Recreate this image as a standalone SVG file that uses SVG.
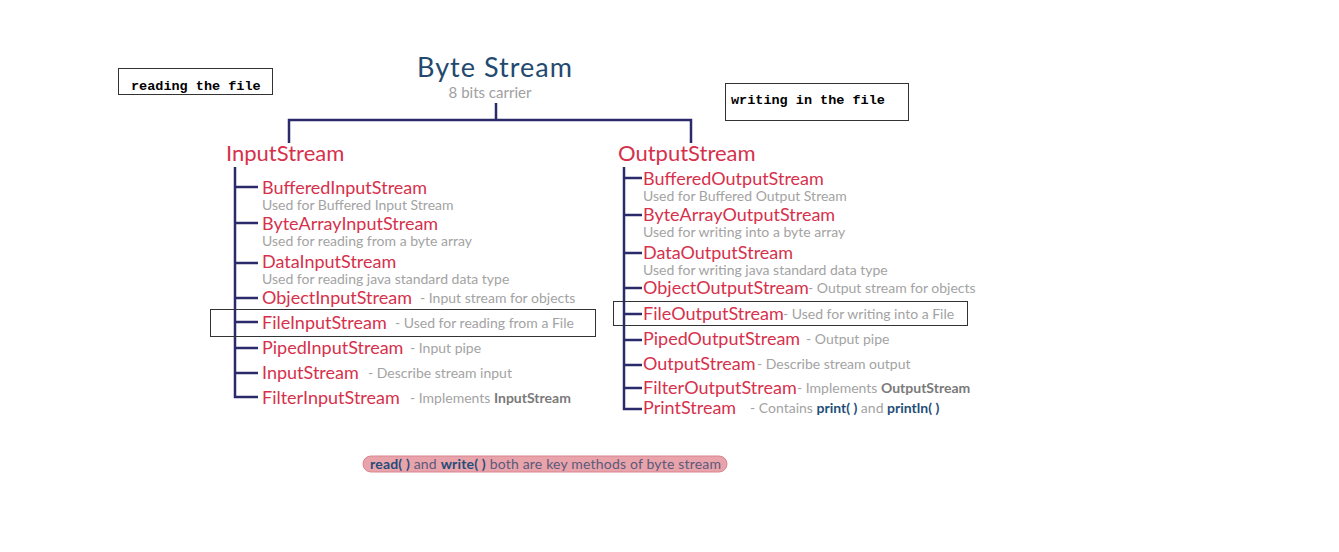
<svg xmlns="http://www.w3.org/2000/svg" width="1339" height="552" viewBox="0 0 1339 552">
<style>
.t{font-family:Lato,"Open Sans","Liberation Sans",sans-serif}
.red{fill:#d6314c;font-size:18px}
.hd{fill:#d6314c;font-size:22px}
.sub{fill:#a3a3a3;font-size:14px}
.desc{fill:#a3a3a3;font-size:14px}
.bg{font-weight:bold;fill:#7a7a7a}
.nb{font-weight:bold;fill:#1f4e79}
.mono{font-family:"Liberation Mono","DejaVu Sans Mono",monospace;font-weight:bold;font-size:13.5px;fill:#000}
.ln{stroke:#2b2a6b;stroke-width:2.5;fill:none}
.box{fill:none;stroke:#333;stroke-width:1}
</style>
<rect width="1339" height="552" fill="#fff"/>
<g id="connectors">
<path class="ln" d="M496,103V120M289,143V120H691V143"/>
<path class="ln" d="M235,167V397H258M235,187H258M235,223H258M235,263H258M235,298H258M235,322H258M235,348H258M235,373H258"/>
<path class="ln" d="M624,167V409H642M624,178H642M624,215H642M624,253H642M624,288H642M624,314H642M624,340H642M624,365H642M624,388H642"/>
</g>
<g id="note-reading">
<rect class="box" x="118.5" y="68.5" width="154" height="26"/>
<text class="mono" x="131" y="90">reading the file</text>
</g>
<g id="note-writing">
<rect class="box" x="725.5" y="83.5" width="183" height="37"/>
<text class="mono" x="731" y="104">writing in the file</text>
</g>
<g id="title">
<text class="t" x="417" y="77" font-size="27" fill="#23496f" textLength="155" lengthAdjust="spacing">Byte Stream</text>
<text class="t" x="490" y="98" text-anchor="middle" font-size="15" fill="#a0a0a0">8 bits carrier</text>
</g>
<g id="input">
<text class="t hd" x="226" y="161">InputStream</text>
<text class="t red" x="262" y="194">BufferedInputStream</text>
<text class="t sub" x="262" y="210">Used for Buffered Input Stream</text>
<text class="t red" x="262" y="230">ByteArrayInputStream</text>
<text class="t sub" x="262" y="246">Used for reading from a byte array</text>
<text class="t red" x="262" y="268">DataInputStream</text>
<text class="t sub" x="262" y="284">Used for reading java standard data type</text>
<text class="t red" x="262" y="304">ObjectInputStream</text>
<text class="t desc" x="420" y="303">- Input stream for objects</text>
<g id="file-input">
<rect class="box" x="210.5" y="309.5" width="385" height="27"/>
<text class="t red" x="262" y="329">FileInputStream</text>
<text class="t desc" x="395" y="328">- Used for reading from a File</text>
</g>
<text class="t red" x="262" y="354">PipedInputStream</text>
<text class="t desc" x="410" y="353">- Input pipe</text>
<text class="t red" x="262" y="379">InputStream</text>
<text class="t desc" x="368" y="378">-  Describe stream input</text>
<text class="t red" x="262" y="404">FilterInputStream</text>
<text class="t desc" x="410" y="403">- Implements <tspan class="bg">InputStream</tspan></text>
</g>
<g id="output">
<text class="t hd" x="618" y="161">OutputStream</text>
<text class="t red" x="643" y="185">BufferedOutputStream</text>
<text class="t sub" x="643" y="201">Used for Buffered Output Stream</text>
<text class="t red" x="643" y="221">ByteArrayOutputStream</text>
<text class="t sub" x="643" y="237">Used for writing into a byte array</text>
<text class="t red" x="643" y="259">DataOutputStream</text>
<text class="t sub" x="643" y="275">Used for writing java standard data type</text>
<text class="t red" x="643" y="294">ObjectOutputStream</text>
<text class="t desc" x="808" y="293">- Output stream for objects</text>
<g id="file-output">
<rect class="box" x="613.5" y="301.5" width="354" height="24"/>
<text class="t red" x="643" y="320">FileOutputStream</text>
<text class="t desc" x="783" y="319">- Used for writing into a File</text>
</g>
<text class="t red" x="643" y="345">PipedOutputStream</text>
<text class="t desc" x="806" y="344">- Output pipe</text>
<text class="t red" x="643" y="370">OutputStream</text>
<text class="t desc" x="757" y="369">- Describe stream output</text>
<text class="t red" x="643" y="394">FilterOutputStream</text>
<text class="t desc" x="797" y="393">- Implements <tspan class="bg">OutputStream</tspan></text>
<text class="t red" x="643" y="414">PrintStream</text>
<text class="t desc" x="750" y="413">- Contains <tspan class="nb">print( )</tspan> and <tspan class="nb">println( )</tspan></text>
</g>
<g id="note-bottom">
<rect x="363" y="456" width="364" height="16" rx="8" fill="#e9a3ab" stroke="#d98590" stroke-width="1"/>
<text class="t" x="370" y="468.5" font-size="14" fill="#5a5a7a" textLength="351" lengthAdjust="spacing"><tspan class="nb">read( )</tspan> and <tspan class="nb">write( )</tspan> both are key methods of byte stream</text>
</g>
</svg>
